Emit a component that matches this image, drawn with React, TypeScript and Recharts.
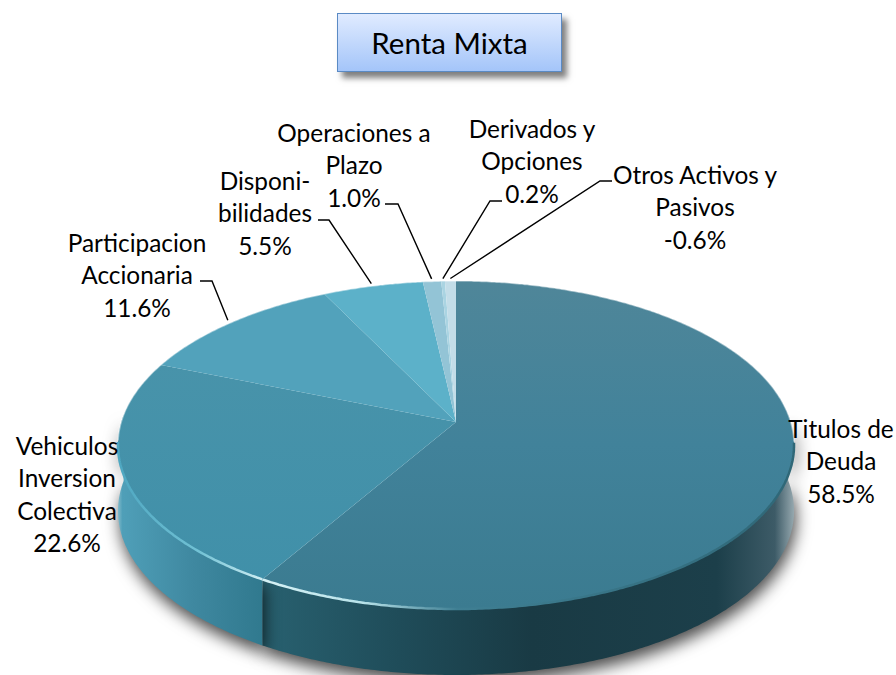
import { PieChart, Pie } from "recharts";

const categories = [
  ["Titulos de", "Deuda"],
  ["Vehiculos", "Inversion", "Colectiva"],
  ["Participacion", "Accionaria"],
  ["Disponi-", "bilidades"],
  ["Operaciones a", "Plazo"],
  ["Derivados y", "Opciones"],
  ["Otros Activos y", "Pasivos"],
];
const shares = [58.5, 22.6, 11.6, 5.5, 1.0, 0.2, -0.6];

const faceFills = [
  "url(#faceDeuda)",
  "url(#faceVehiculos)",
  "#52a2bb",
  "#5cb1c9",
  "#93c4d6",
  "#aad4e2",
  "#c3dde8",
];
const wallFills = [
  "url(#wallDeuda)",
  "url(#wallVehiculos)",
  "#3f8ca3",
  "#3f8ca3",
  "#3f8ca3",
  "#3f8ca3",
  "#3f8ca3",
];

// where each label sits, and the elbow of its leader line
const labelSpots = [
  { x: 841, y: 428 },
  { x: 67, y: 445 },
  { x: 137, y: 242, line: [[200, 281], [212, 281]] },
  { x: 265, y: 180, line: [[318, 220], [329, 220]] },
  { x: 354, y: 132, line: [[385, 204], [398, 204]] },
  { x: 532, y: 128, line: [[502, 201], [490, 201]] },
  { x: 695, y: 174, line: [[612, 181], [600, 181]] },
];

const pieData = categories.map((name, i) => ({
  name: name.join(" "),
  share: shares[i],
  size: Math.abs(shares[i]),
  fill: faceFills[i],
  wall: wallFills[i],
}));

const TILT = 0.4804;
const PERSPECTIVE = 0.14;
const DEPTH = 66;
const RAD = Math.PI / 180;

// disc point to screen, the front of the disc comes closer to the viewer
function project(cx: number, cy: number, r: number, angle: number, scale = 1) {
  const x = Math.cos(angle * RAD) * scale;
  const y = -Math.sin(angle * RAD) * scale;
  const w = 1 - PERSPECTIVE * y;
  return [cx + (r * x) / w, cy + (r * TILT * y) / w];
}

function arcAngles(p: any) {
  const out = [];
  const steps = Math.max(2, Math.ceil(Math.abs(p.endAngle - p.startAngle) * 2));
  for (let i = 0; i <= steps; i++) {
    out.push(p.startAngle + ((p.endAngle - p.startAngle) * i) / steps);
  }
  return out;
}

const arcPoints = (p: any, angles: number[]) =>
  angles.map((a) => project(p.cx, p.cy, p.outerRadius, a));

const toPath = (pts: number[][]) =>
  pts.map((q, i) => `${i ? "L" : "M"}${q[0].toFixed(1)} ${q[1].toFixed(1)}`).join(" ");

function FaceShape(p: any) {
  const angles = arcAngles(p);
  const pts = arcPoints(p, angles);
  // only the front edge catches the light, the back edge is just soft
  const front = arcPoints(p, angles.filter((a) => Math.sin(a * RAD) < -0.12));
  const back = arcPoints(p, angles.filter((a) => Math.sin(a * RAD) >= -0.12));
  return (
    <g>
      <path d={`${toPath([[p.cx, p.cy], ...pts])} Z`} fill={p.fill} stroke="none" />
      {front.length > 1 && <path d={toPath(front)} fill="none" stroke="url(#rim)" strokeWidth={2.5} />}
      {back.length > 1 && <path d={toPath(back)} fill="none" stroke="#fff" strokeOpacity={0.45} strokeWidth={1.5} />}
    </g>
  );
}

function WallShape(p: any) {
  const pts = arcPoints(p, arcAngles(p).filter((a) => Math.sin(a * RAD) < 0.05));
  const lower = [...pts].reverse().map((q) => [q[0], q[1] + DEPTH]);
  if (pts.length < 2) return <g />;
  return (
    <path
      d={`${toPath([...pts, ...lower])} Z`}
      fill={p.wall}
      stroke="none"
      style={{ filter: "drop-shadow(2px 8px 8px rgba(0,0,0,0.7))" }}
    />
  );
}

function renderLabel(p: any) {
  const spot = labelSpots[p.index];
  const lines = [...categories[p.index], `${shares[p.index].toFixed(1)}%`];
  const end = project(p.cx, p.cy, p.outerRadius, p.midAngle, 1.02);
  return (
    <g>
      {spot.line && (
        <polyline
          points={[...spot.line, end].map((q) => q.join(",")).join(" ")}
          fill="none"
          stroke="#000"
          strokeWidth={1.4}
        />
      )}
      {lines.map((t, i) => (
        <text
          key={t}
          x={spot.x}
          y={spot.y + i * 32.5}
          textAnchor="middle"
          dominantBaseline="central"
          fontFamily="Lato, sans-serif"
          fontSize={24.4}
          fill="#000"
        >
          {t}
        </text>
      ))}
    </g>
  );
}

export default function App() {
  return (
    <div style={{ position: "absolute", left: 0, top: 0, width: 896, height: 675, overflow: "hidden", background: "#fff" }}>
      <PieChart width={896} height={675} margin={{ top: 0, right: 0, bottom: 0, left: 0 }}>
        <defs>
          <linearGradient id="faceDeuda" x1="0" y1="281" x2="0" y2="609" gradientUnits="userSpaceOnUse">
            <stop offset="0" stopColor="#4f8699" />
            <stop offset="0.5" stopColor="#41829a" />
            <stop offset="1" stopColor="#3b7b90" />
          </linearGradient>
          <linearGradient id="faceVehiculos" x1="0" y1="360" x2="0" y2="590" gradientUnits="userSpaceOnUse">
            <stop offset="0" stopColor="#4893aa" />
            <stop offset="1" stopColor="#4090a9" />
          </linearGradient>
          <linearGradient id="wallVehiculos" x1="118" y1="0" x2="268" y2="0" gradientUnits="userSpaceOnUse">
            <stop offset="0" stopColor="#7fb9ca" />
            <stop offset="0.03" stopColor="#4f9fb8" />
            <stop offset="0.5" stopColor="#3f88a0" />
            <stop offset="1" stopColor="#2f788d" />
          </linearGradient>
          <linearGradient id="wallDeuda" x1="268" y1="0" x2="796" y2="0" gradientUnits="userSpaceOnUse">
            <stop offset="0" stopColor="#28606f" />
            <stop offset="0.25" stopColor="#1f4c59" />
            <stop offset="0.5" stopColor="#193a44" />
            <stop offset="0.85" stopColor="#1c3f4a" />
            <stop offset="0.96" stopColor="#3d5b67" />
            <stop offset="1" stopColor="#9fb0b6" />
          </linearGradient>
          <linearGradient id="rim" x1="118" y1="0" x2="796" y2="0" gradientUnits="userSpaceOnUse">
            <stop offset="0" stopColor="#4ea7c1" />
            <stop offset="0.12" stopColor="#72c2d5" />
            <stop offset="0.22" stopColor="#d5f1f5" />
            <stop offset="0.36" stopColor="#b8e3ea" />
            <stop offset="0.5" stopColor="#3f7f93" />
            <stop offset="1" stopColor="#2f6777" />
          </linearGradient>
        </defs>
        <Pie
          data={pieData}
          dataKey="size"
          cx={456}
          cy={422}
          outerRadius={334.7}
          startAngle={90}
          endAngle={-270}
          shape={WallShape}
          label={false}
          stroke="none"
          isAnimationActive={false}
        />
        <Pie
          data={pieData}
          dataKey="size"
          cx={456}
          cy={422}
          outerRadius={334.7}
          startAngle={90}
          endAngle={-270}
          shape={FaceShape}
          label={renderLabel}
          labelLine={false}
          stroke="none"
          isAnimationActive={false}
        />
      </PieChart>
      <div
        style={{
          position: "absolute",
          left: 337,
          top: 13,
          width: 223,
          height: 57,
          border: "1.5px solid #5a8ac4",
          background: "linear-gradient(#e0ebff, #a4c5f9)",
          boxShadow: "5px 6px 6px rgba(0,0,0,0.5)",
          display: "flex",
          alignItems: "center",
          justifyContent: "center",
          fontFamily: "Lato, sans-serif",
          fontSize: 29.5,
          color: "#000",
        }}
      >
        Renta Mixta
      </div>
    </div>
  );
}
